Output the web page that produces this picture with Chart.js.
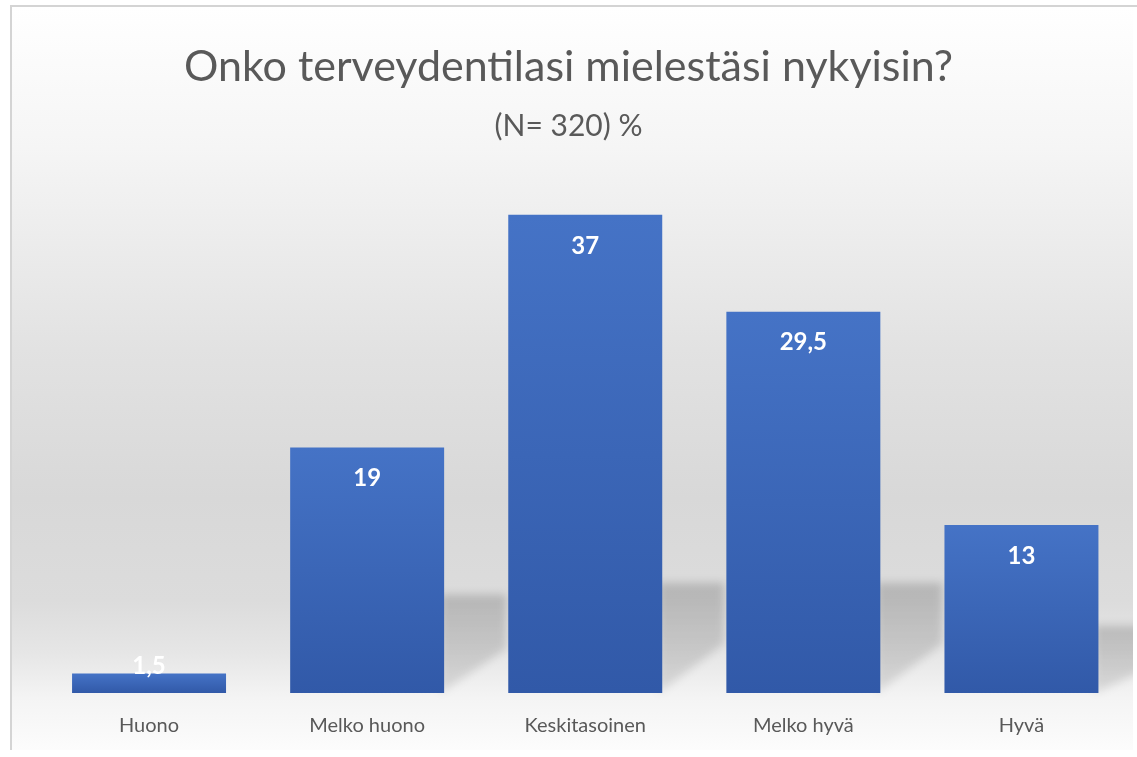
<!DOCTYPE html>
<html>
<head>
<meta charset="utf-8">
<script src="https://cdn.jsdelivr.net/npm/chart.js@4"></script>
<style>
html,body{margin:0;padding:0;background:#fff;}
#wrap{width:1137px;height:757px;position:relative;}
</style>
</head>
<body>
<div id="wrap"><canvas id="c" width="1137" height="757"></canvas></div>
<script>
const categories = ["Huono", "Melko huono", "Keskitasoinen", "Melko hyvä", "Hyvä"];
const values = [1.5, 19, 37, 29.5, 13];
const titleText = "Onko terveydentilasi mielestäsi nykyisin?";
const subtitleText = "(N= 320) %";

const FONT = "Lato, 'Liberation Sans', sans-serif";

const bgPlugin = {
  id: 'bg',
  beforeDraw(chart) {
    const ctx = chart.ctx;
    ctx.save();
    const g = ctx.createLinearGradient(0, 7, 0, 750);
    g.addColorStop(0, '#ffffff');
    g.addColorStop(0.19, '#f5f5f5');
    g.addColorStop(0.46, '#e2e2e2');
    g.addColorStop(0.66, '#d8d8d8');
    g.addColorStop(0.8, '#dcdcdc');
    g.addColorStop(0.87, '#e6e6e6');
    g.addColorStop(0.93, '#f4f4f4');
    g.addColorStop(1, '#fcfcfc');
    ctx.fillStyle = g;
    ctx.fillRect(12, 7, 1121, 743);
    ctx.strokeStyle = '#d4d4d4';
    ctx.lineWidth = 2;
    ctx.beginPath();
    ctx.moveTo(11, 750);
    ctx.lineTo(11, 6);
    ctx.lineTo(1137, 6);
    ctx.stroke();
    ctx.restore();
  }
};

const shadowPlugin = {
  id: 'shadows',
  beforeDatasetsDraw(chart) {
    const ctx = chart.ctx;
    const meta = chart.getDatasetMeta(0);
    ctx.save();
    ctx.beginPath();
    ctx.rect(12, 7, 1121, 743);
    ctx.clip();
    ctx.filter = 'blur(4px)';
    meta.data.forEach(bar => {
      const p = bar.getProps(['x', 'y', 'base', 'width'], true);
      const right = p.x + p.width / 2;
      const h = p.base - p.y;
      if (h < 40) return;
      const sh = Math.min(0.4 * h, 110);
      const g = ctx.createLinearGradient(0, p.base - sh, 0, p.base);
      g.addColorStop(0, 'rgba(0,0,0,0.17)');
      g.addColorStop(1, 'rgba(0,0,0,0.10)');
      ctx.fillStyle = g;
      ctx.beginPath();
      ctx.moveTo(right - 4, p.base - sh);
      ctx.lineTo(right + 62, p.base - sh);
      ctx.lineTo(right + 62, p.base - sh * 0.45);
      ctx.lineTo(right - 4, p.base);
      ctx.closePath();
      ctx.fill();
    });
    ctx.restore();
  }
};

const labelPlugin = {
  id: 'valueLabels',
  afterDatasetsDraw(chart) {
    const ctx = chart.ctx;
    const meta = chart.getDatasetMeta(0);
    ctx.save();
    ctx.fillStyle = '#ffffff';
    ctx.font = "bold 24px " + FONT;
    ctx.textAlign = 'center';
    ctx.textBaseline = 'middle';
    meta.data.forEach((bar, i) => {
      const p = bar.getProps(['x', 'y', 'base'], true);
      const cy = Math.min(p.y + 31, p.base - 27);
      ctx.fillText(String(values[i]).replace('.', ','), p.x, cy);
    });
    ctx.restore();
  }
};

function barGradient(context) {
  const chart = context.chart;
  const ys = chart.scales && chart.scales.y;
  if (!ys || !chart.chartArea) return '#3f6bbd';
  const v = context.raw;
  const top = ys.getPixelForValue(v);
  const base = ys.getPixelForValue(0);
  if (!isFinite(top) || !isFinite(base) || base - top < 1) return '#3f6bbd';
  const g = chart.ctx.createLinearGradient(0, top, 0, base);
  g.addColorStop(0, '#4573c6');
  g.addColorStop(1, '#3159a8');
  return g;
}

new Chart(document.getElementById('c'), {
  type: 'bar',
  data: {
    labels: categories,
    datasets: [{
      data: values,
      backgroundColor: barGradient,
      borderWidth: 0,
      categoryPercentage: 1,
      barPercentage: 0.706
    }]
  },
  plugins: [bgPlugin, shadowPlugin, labelPlugin],
  options: {
    responsive: false,
    animation: false,
    devicePixelRatio: 1,
    layout: { padding: { left: 6.5, right: 6.5, top: 0, bottom: 0 } },
    plugins: {
      legend: { display: false },
      tooltip: { enabled: false },
      title: {
        display: true,
        text: titleText,
        color: '#595959',
        font: { family: FONT, size: 43, weight: 'normal', lineHeight: 1.2 },
        padding: { top: 41, bottom: 0 }
      },
      subtitle: {
        display: true,
        text: subtitleText,
        color: '#595959',
        font: { family: FONT, size: 30, weight: 'normal', lineHeight: 1.2 },
        padding: { top: 15.4, bottom: 32 }
      }
    },
    scales: {
      y: {
        display: true,
        min: 0,
        max: 40,
        grid: { display: false, drawTicks: false },
        border: { display: false },
        ticks: { display: false },
        afterFit(scale) { scale.width = 33.5; }
      },
      x: {
        grid: { display: false, drawTicks: false },
        border: { display: false },
        ticks: {
          color: '#595959',
          font: { family: FONT, size: 20 },
          padding: 21
        },
        afterFit(scale) { scale.height = 64; }
      }
    }
  }
});
</script>
</body>
</html>
